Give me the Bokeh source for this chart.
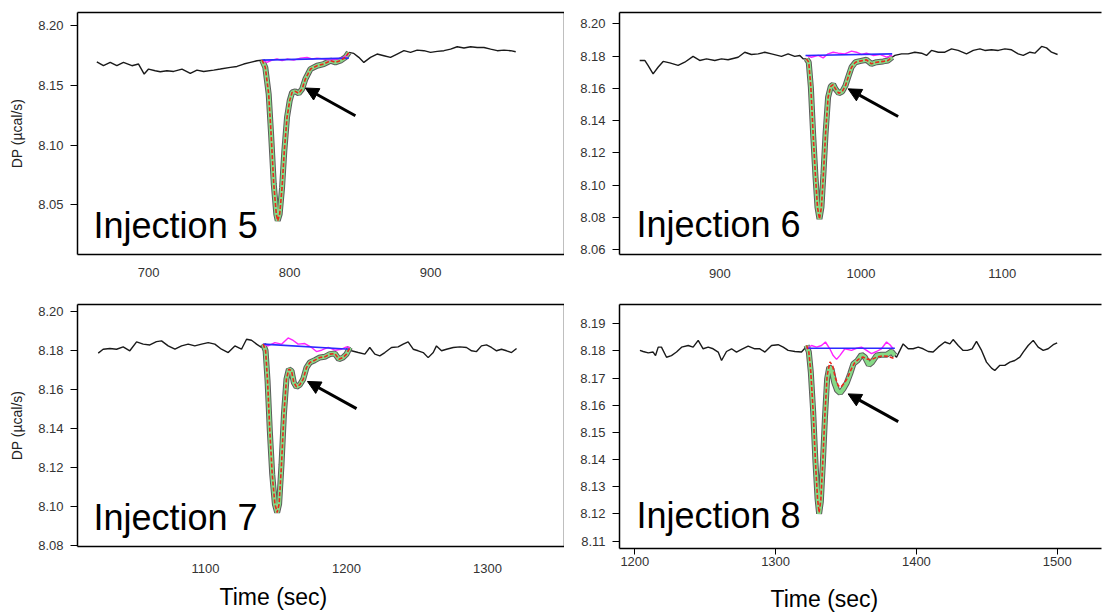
from bokeh.plotting import figure
from bokeh.layouts import column, row
from bokeh.models import Range1d, FixedTicker, PrintfTickFormatter, Label, Arrow, NormalHead, Title, LinearAxis
from bokeh.embed import file_html
from bokeh.resources import INLINE

NAN = float("nan")

# ---------------- Injection 5 ----------------
t5_raw = [663.3, 668.0, 672.8, 677.5, 682.2, 688.2, 692.9, 696.9, 700.0, 704.7, 708.3, 713.0, 717.8, 723.7,
          729.6, 734.3, 739.1, 746.2, 750.9, 758.0, 762.7, 767.5, 772.2, 776.9, 780.5, NAN,
          842.0, 845.6, 849.1, 852.7, 857.4, 862.1, 866.9, 871.6, 876.3, 881.1, 885.8, 890.5, 895.3, 900.0,
          904.7, 909.5, 914.2, 918.9, 923.7, 928.4, 933.1, 937.9, 942.6, 947.3, 952.1, 956.8, 960.4]
dp5_raw = [8.1698, 8.1665, 8.1693, 8.1665, 8.1693, 8.1665, 8.1679, 8.1595, 8.1637, 8.1623, 8.1615, 8.1623, 8.1617, 8.1637,
           8.1601, 8.1628, 8.1617, 8.1628, 8.1637, 8.1651, 8.1659, 8.1679, 8.1693, 8.1707, 8.1712, NAN,
           8.1777, 8.1768, 8.1735, 8.1693, 8.1735, 8.1763, 8.1749, 8.1735, 8.1763, 8.1791, 8.1777, 8.1796, 8.1791, 8.1777,
           8.1785, 8.1791, 8.1804, 8.1824, 8.1813, 8.1824, 8.1818, 8.1818, 8.1804, 8.1791, 8.1796, 8.1791, 8.1782]
t5_peak = [780.5, 782.8, 785.2, 786.9, 788.8, 790.6, 791.6, 793.0, 794.7, 796.3, 798.2, 800.1, 801.8, 804.1,
           806.5, 808.9, 811.2, 814.8, 819.5, 824.3, 829.0, 832.5, 836.0, 839.6, 842.0]
dp5_peak = [8.1712, 8.1651, 8.1427, 8.1092, 8.0673, 8.0422, 8.0366, 8.0422, 8.0645, 8.0953, 8.1232, 8.1372, 8.1441, 8.1450,
            8.1433, 8.1469, 8.1553, 8.1637, 8.1665, 8.1679, 8.1707, 8.1693, 8.1707, 8.1735, 8.1777]
t5_fit = t5_peak
dp5_fit = dp5_peak
t5_ref = [780.5, 784.0, 787.6, 791.1, 794.7, 798.2, 803.0, 807.7, 812.4, 816.0, 819.5, 824.3, 829.0, 833.7, 838.5, 842.0]
dp5_ref = [8.1712, 8.1693, 8.1712, 8.1721, 8.1707, 8.1721, 8.1712, 8.1729, 8.1735, 8.1721, 8.1729, 8.1721, 8.1712, 8.1721, 8.1735, 8.1763]
t5_base = [780.5, 842.0]
dp5_base = [8.1712, 8.1729]
arrow5 = [846.7, 8.1246, 811.2, 8.1478]

# ---------------- Injection 6 ----------------
t6_raw = [843.3, 846.9, 849.2, 852.8, 856.3, 859.9, 864.6, 870.5, 875.2, 881.1, 885.8, 890.6, 896.5, 901.2, 905.9,
          913.0, 917.7, 922.4, 927.2, 931.9, 936.6, 943.7, 948.4, 953.1, 956.7, 959.0, 961.4, NAN,
          1022.1, 1024.0, 1028.7, 1033.4, 1038.1, 1042.9, 1046.4, 1049.9, 1054.7, 1059.4, 1064.1, 1068.8, 1074.7,
          1079.5, 1084.2, 1087.7, 1092.4, 1097.2, 1101.9, 1106.6, 1111.3, 1114.9, 1119.6, 1123.1, 1127.9, 1131.4,
          1134.9, 1139.2]
dp6_raw = [8.1773, 8.1773, 8.1742, 8.1690, 8.1731, 8.1767, 8.1758, 8.1742, 8.1762, 8.1798, 8.1773, 8.1783, 8.1773, 8.1783, 8.1777,
           8.1793, 8.1824, 8.1810, 8.1814, 8.1824, 8.1814, 8.1798, 8.1814, 8.1798, 8.1804, 8.1783, 8.1783, NAN,
           8.1793, 8.1804, 8.1814, 8.1814, 8.1824, 8.1818, 8.1804, 8.1835, 8.1824, 8.1824, 8.1845, 8.1835, 8.1814,
           8.1835, 8.1845, 8.1835, 8.1839, 8.1835, 8.1845, 8.1839, 8.1814, 8.1804, 8.1824, 8.1818, 8.1860, 8.1851,
           8.1824, 8.1810]
t6_peak = [961.4, 963.0, 964.5, 966.1, 967.8, 969.2, 970.6, 972.0, 973.4, 974.9, 976.7, 978.6, 980.3, 981.9,
           984.3, 986.7, 989.0, 990.9, 993.3, 996.1, 999.2, 1003.9, 1007.4, 1011.0, 1015.7, 1019.2, 1022.1]
dp6_peak = [8.1783, 8.1762, 8.1607, 8.1318, 8.1050, 8.0864, 8.0791, 8.0864, 8.1070, 8.1318, 8.1545, 8.1612, 8.1624, 8.1597,
            8.1570, 8.1580, 8.1617, 8.1669, 8.1731, 8.1762, 8.1769, 8.1777, 8.1752, 8.1762, 8.1767, 8.1773, 8.1793]
t6_fit = t6_peak
dp6_fit = dp6_peak
t6_ref = [961.4, 964.9, 969.7, 973.2, 976.7, 980.3, 983.8, 988.5, 993.3, 996.8, 1000.4, 1003.9, 1008.6, 1013.3, 1018.1, 1022.1]
dp6_ref = [8.1804, 8.1793, 8.1804, 8.1789, 8.1814, 8.1824, 8.1818, 8.1814, 8.1831, 8.1824, 8.1810, 8.1818, 8.1804, 8.1810, 8.1793, 8.1804]
t6_base = [960.7, 1022.1]
dp6_base = [8.1804, 8.1814]
arrow6 = [1026.3, 8.1426, 990.9, 8.1597]

# ---------------- Injection 7 ----------------
t7_raw = [1023.9, 1027.4, 1032.2, 1036.9, 1041.6, 1046.3, 1051.1, 1055.8, 1060.5, 1065.2, 1068.8, 1073.5, 1078.3,
          1083.0, 1087.7, 1092.4, 1097.2, 1101.9, 1106.6, 1111.3, 1116.1, 1120.8, 1125.5, 1129.1, 1132.6, 1136.2,
          1139.7, 1140.9, NAN,
          1202.4, 1203.5, 1208.3, 1213.0, 1216.5, 1220.1, 1223.6, 1227.2, 1231.9, 1236.6, 1240.2, 1243.7, 1247.3,
          1250.8, 1254.4, 1257.9, 1261.5, 1263.8, 1267.4, 1270.9, 1275.7, 1280.4, 1285.1, 1288.7, 1292.2, 1295.7,
          1299.3, 1302.8, 1306.4, 1309.9, 1313.5, 1317.0, 1320.6]
dp7_raw = [8.1787, 8.1807, 8.1811, 8.1807, 8.1819, 8.1799, 8.1845, 8.1833, 8.1829, 8.1846, 8.1850, 8.1824, 8.1807,
           8.1824, 8.1833, 8.1824, 8.1833, 8.1841, 8.1833, 8.1807, 8.1790, 8.1824, 8.1807, 8.1858, 8.1853, 8.1833,
           8.1816, 8.1833, NAN,
           8.1816, 8.1799, 8.1790, 8.1782, 8.1816, 8.1782, 8.1773, 8.1790, 8.1816, 8.1819, 8.1833, 8.1845, 8.1807,
           8.1799, 8.1790, 8.1764, 8.1790, 8.1824, 8.1799, 8.1807, 8.1816, 8.1819, 8.1816, 8.1799, 8.1795, 8.1824,
           8.1829, 8.1816, 8.1799, 8.1807, 8.1799, 8.1790, 8.1811]
t7_peak = [1140.9, 1142.6, 1144.0, 1145.6, 1147.3, 1149.2, 1150.8, 1152.2, 1153.9, 1155.6, 1157.4, 1159.1, 1161.0,
           1162.6, 1164.5, 1166.9, 1169.3, 1171.6, 1174.0, 1177.5, 1181.1, 1184.6, 1188.2, 1191.7, 1194.6, 1197.6,
           1200.0, 1202.4]
dp7_peak = [8.1833, 8.1800, 8.1645, 8.1389, 8.1167, 8.1014, 8.0971, 8.1014, 8.1218, 8.1474, 8.1654, 8.1705, 8.1696,
            8.1637, 8.1614, 8.1625, 8.1654, 8.1713, 8.1739, 8.1751, 8.1765, 8.1768, 8.1782, 8.1785, 8.1756, 8.1765,
            8.1782, 8.1816]
t7_fit = t7_peak
dp7_fit = dp7_peak
t7_ref = [1140.9, 1144.4, 1149.2, 1153.9, 1158.6, 1162.2, 1165.7, 1170.4, 1175.2, 1178.7, 1182.3, 1187.0, 1191.7, 1196.5, 1200.0, 1202.4]
dp7_ref = [8.1833, 8.1824, 8.1841, 8.1833, 8.1865, 8.1852, 8.1833, 8.1836, 8.1816, 8.1795, 8.1802, 8.1816, 8.1802, 8.1807, 8.1819, 8.1816]
t7_base = [1140.9, 1202.4]
dp7_base = [8.1833, 8.1807]
arrow7 = [1207.1, 8.1503, 1172.3, 8.1642]

# ---------------- Injection 8 ----------------
t8_raw = [1203.6, 1205.9, 1209.5, 1213.0, 1214.7, 1216.6, 1218.9, 1222.5, 1226.0, 1229.6, 1233.2, 1237.9, 1241.4,
          1245.0, 1248.5, 1252.1, 1255.6, 1259.2, 1261.6, 1265.1, 1268.7, 1272.2, 1275.8, 1280.5, 1285.2, 1288.8,
          1292.4, 1297.1, 1301.8, 1305.4, 1308.9, 1313.7, 1318.4, 1320.8, 1322.0, NAN,
          1384.7, 1385.9, 1388.3, 1390.6, 1394.2, 1397.7, 1401.3, 1404.8, 1408.4, 1411.9, 1415.5, 1420.2, 1423.8,
          1426.1, 1429.7, 1433.2, 1436.3, 1439.6, 1442.7, 1446.3, 1449.8, 1453.4, 1455.7, 1459.3, 1462.8, 1466.4,
          1469.9, 1473.5, 1475.9, 1479.4, 1483.0, 1486.5, 1490.1, 1493.6, 1497.2, 1500.0]
dp8_raw = [8.1802, 8.1798, 8.1793, 8.1796, 8.1783, 8.1814, 8.1814, 8.1777, 8.1783, 8.1796, 8.1814, 8.1820, 8.1814,
           8.1839, 8.1808, 8.1814, 8.1808, 8.1796, 8.1765, 8.1798, 8.1808, 8.1796, 8.1806, 8.1818, 8.1808, 8.1808,
           8.1796, 8.1820, 8.1823, 8.1814, 8.1802, 8.1798, 8.1796, 8.1810, 8.1820, NAN,
           8.1783, 8.1777, 8.1802, 8.1826, 8.1808, 8.1808, 8.1814, 8.1808, 8.1798, 8.1796, 8.1814, 8.1833, 8.1826,
           8.1842, 8.1820, 8.1802, 8.1802, 8.1808, 8.1835, 8.1802, 8.1759, 8.1737, 8.1728, 8.1747, 8.1747, 8.1759,
           8.1765, 8.1777, 8.1796, 8.1820, 8.1839, 8.1814, 8.1802, 8.1808, 8.1823, 8.1830]
t8_peak = [1322.0, 1323.6, 1325.0, 1326.7, 1328.3, 1329.8, 1330.9, 1332.1, 1333.6, 1335.0, 1336.6, 1338.1, 1339.7,
           1341.6, 1343.7, 1345.9, 1348.2, 1350.6, 1353.0, 1355.3, 1358.2, 1361.0, 1363.4, 1366.2, 1368.6, 1371.7,
           1375.2, 1378.8, 1382.3, 1384.7]
dp8_peak = [8.1820, 8.1796, 8.1722, 8.1575, 8.1391, 8.1256, 8.1201, 8.1244, 8.1391, 8.1550, 8.1698, 8.1740, 8.1734,
            8.1685, 8.1655, 8.1645, 8.1661, 8.1683, 8.1716, 8.1753, 8.1765, 8.1786, 8.1777, 8.1749, 8.1759, 8.1783,
            8.1786, 8.1786, 8.1798, 8.1783]
t8_fit = [1322.0, 1323.6, 1325.0, 1326.7, 1328.3, 1329.8, 1330.9, 1332.1, 1333.6, 1335.0, 1336.6, 1338.6, 1340.5,
          1342.5, 1344.5, 1346.5, 1348.5, 1351.0, 1353.5, 1356.0, 1359.0, 1362.0, 1365.0, 1368.0, 1372.0, 1376.0,
          1380.0, 1384.7]
dp8_fit = [8.1820, 8.1796, 8.1722, 8.1575, 8.1391, 8.1256, 8.1205, 8.1250, 8.1400, 8.1565, 8.1710, 8.1760, 8.1745,
           8.1700, 8.1672, 8.1668, 8.1680, 8.1700, 8.1730, 8.1755, 8.1770, 8.1778, 8.1770, 8.1768, 8.1778, 8.1782,
           8.1780, 8.1771]
t8_ref = [1322.0, 1325.5, 1329.1, 1332.6, 1335.4, 1338.5, 1340.9, 1343.3, 1345.6, 1349.2, 1353.9, 1357.5, 1361.0,
          1364.6, 1368.1, 1371.7, 1375.2, 1378.8, 1381.2, 1383.5]
dp8_ref = [8.1808, 8.1820, 8.1814, 8.1820, 8.1833, 8.1808, 8.1783, 8.1769, 8.1783, 8.1808, 8.1802, 8.1810, 8.1814,
           8.1802, 8.1790, 8.1798, 8.1808, 8.1833, 8.1823, 8.1808]
t8_base = [1322.0, 1384.7]
dp8_base = [8.1810, 8.1810]
arrow8 = [1387.1, 8.1540, 1351.5, 8.1642]

# axis ticks
x5_ticks = [700, 800, 900]
y5_ticks = [8.05, 8.10, 8.15, 8.20]
x6_ticks = [900, 1000, 1100]
y6_ticks = [8.06, 8.08, 8.10, 8.12, 8.14, 8.16, 8.18, 8.20]
x7_ticks = [1100, 1200, 1300]
y7_ticks = [8.08, 8.10, 8.12, 8.14, 8.16, 8.18, 8.20]
x8_ticks = [1200, 1300, 1400, 1500]
y8_ticks = [8.11, 8.12, 8.13, 8.14, 8.15, 8.16, 8.17, 8.18, 8.19]

labels = ["Injection 5", "Injection 6", "Injection 7", "Injection 8"]
label_pos = [(661.0, 8.0325), (841.0, 8.0755), (1020.5, 8.0945), (1201.2, 8.1195)]

FONT = "Liberation Sans"


def panel(xr, yr, xt, yt, raw, peak, fit, ref, base, arrow, label, lpos,
          ml, mr, mt, mb, fw, fh, ylabel, xtick_out, xstandoff, open_right, xtitle_offset, xtitle_standoff=12):
    p = figure(frame_width=fw, frame_height=fh,
               x_range=Range1d(*xr), y_range=Range1d(*yr),
               output_backend="svg", toolbar_location=None,
               min_border_left=ml, min_border_right=mr, min_border_top=mt, min_border_bottom=mb,
               background_fill_color="white", border_fill_color="white")
    p.grid.visible = False
    p.xaxis.ticker = FixedTicker(ticks=xt)
    p.yaxis.ticker = FixedTicker(ticks=yt)
    p.yaxis.formatter = PrintfTickFormatter(format="%.2f")
    for ax in (p.xaxis[0], p.yaxis[0]):
        ax.axis_line_color = "black"
        ax.axis_line_width = 1.5
        ax.major_tick_line_color = "black"
        ax.minor_tick_line_color = None
        ax.major_tick_in = 0
        ax.major_label_text_font = FONT
        ax.major_label_text_font_size = "13px"
        ax.major_label_text_color = "#333333"
    p.yaxis.major_tick_out = 7
    p.yaxis.major_label_standoff = 7
    p.xaxis.major_tick_out = xtick_out
    p.xaxis.major_label_standoff = xstandoff
    if ylabel:
        p.yaxis.axis_label = ylabel
        p.yaxis.axis_label_text_font = FONT
        p.yaxis.axis_label_text_font_size = "14px"
        p.yaxis.axis_label_text_font_style = "normal"
        p.yaxis.axis_label_text_color = "#222222"
        p.yaxis.axis_label_standoff = 10
    top = LinearAxis(ticker=FixedTicker(ticks=[]), axis_line_color="black", axis_line_width=1.5,
                     major_tick_line_color=None, minor_tick_line_color=None)
    p.add_layout(top, "above")
    p.outline_line_color = None
    if not open_right:
        right = LinearAxis(ticker=FixedTicker(ticks=[]), axis_line_color="black", axis_line_width=1.5,
                           major_tick_line_color=None, minor_tick_line_color=None)
        p.add_layout(right, "right")

    p.line(raw[0], raw[1], line_color="#1a1a1a", line_width=1.4)
    p.line(peak[0], peak[1], line_color="#5c5c5c", line_width=6)
    p.line(peak[0], peak[1], line_color="#86da86", line_width=4)
    p.line(ref[0], ref[1], line_color="#ff22ff", line_width=1.4)
    p.line(base[0], base[1], line_color="#2b2bff", line_width=1.6)
    p.line(fit[0], fit[1], line_color="#e8281e", line_width=1.6, line_dash="4 2")

    p.add_layout(Arrow(x_start=arrow[0], y_start=arrow[1], x_end=arrow[2], y_end=arrow[3],
                       line_color="black", line_width=3,
                       end=NormalHead(size=13, fill_color="black", line_color="black", line_width=1)))
    p.add_layout(Label(x=lpos[0], y=lpos[1], text=label, text_font=FONT, text_font_size="36px",
                       text_color="black", text_baseline="alphabetic", text_align="left"))
    if xtitle_offset is not None:
        p.add_layout(Title(text="Time (sec)", align="left", offset=xtitle_offset, text_font=FONT,
                           text_font_size="23px", text_font_style="normal", text_color="black",
                           standoff=xtitle_standoff), "below")
    return p


p5 = panel((649.6, 995.0), (8.0083, 8.2111), x5_ticks, y5_ticks, (t5_raw, dp5_raw), (t5_peak, dp5_peak),
           (t5_fit, dp5_fit), (t5_ref, dp5_ref), (t5_base, dp5_base), arrow5, labels[0], label_pos[0],
           77, 0, 12, 41, 487, 242, "DP (µcal/s)", 0, 13, False, None)
p6 = panel((829.0, 1170.3), (8.0571, 8.2070), x6_ticks, y6_ticks, (t6_raw, dp6_raw), (t6_peak, dp6_peak),
           (t6_fit, dp6_fit), (t6_ref, dp6_ref), (t6_base, dp6_base), arrow6, labels[1], label_pos[1],
           55, 1, 12, 41, 482, 242, None, 0, 14, True, None)
p7 = panel((1009.2, 1354.6), (8.0797, 8.2036), x7_ticks, y7_ticks, (t7_raw, dp7_raw), (t7_peak, dp7_peak),
           (t7_fit, dp7_fit), (t7_ref, dp7_ref), (t7_base, dp7_base), arrow7, labels[2], label_pos[2],
           77, 0, 7, 69, 487, 242, "DP (µcal/s)", 0, 17, False, 142, 12)
p8 = panel((1189.1, 1531.5), (8.1073, 8.1971), x8_ticks, y8_ticks, (t8_raw, dp8_raw), (t8_peak, dp8_peak),
           (t8_fit, dp8_fit), (t8_ref, dp8_ref), (t8_base, dp8_base), arrow8, labels[3], label_pos[3],
           55, 1, 9, 65, 482, 244, None, 6, 2, True, 151, 30)

layout = column(row(p5, p6, spacing=0), row(p7, p8, spacing=0), spacing=0)
open("out.html", "w").write(file_html(layout, INLINE))
